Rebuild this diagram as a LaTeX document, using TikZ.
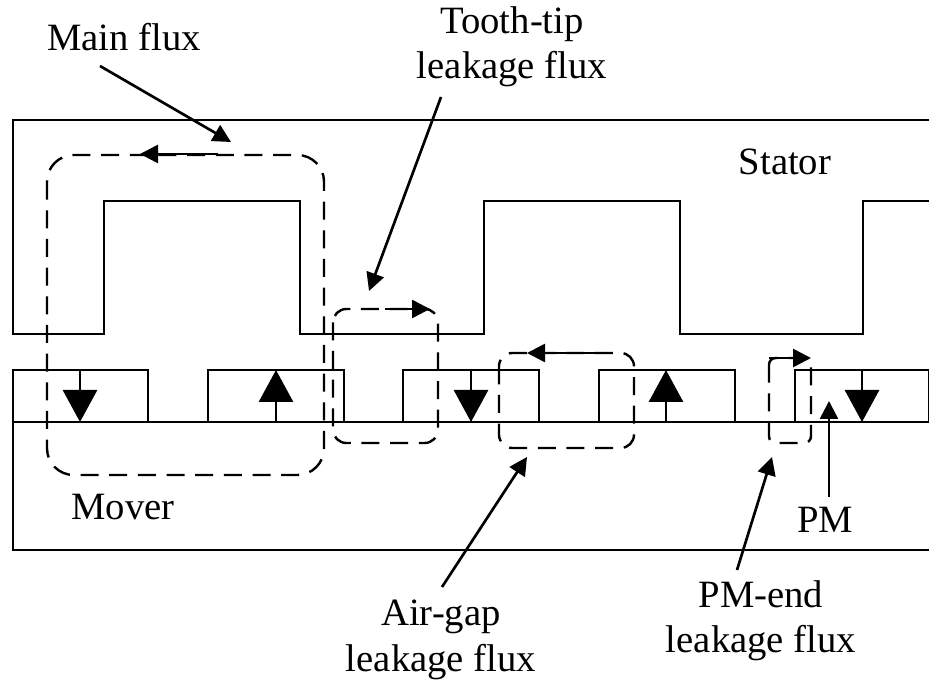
\documentclass[tikz,border=0pt]{standalone}
\usepackage{fontspec}
\setmainfont{Liberation Serif}
\usetikzlibrary{arrows.meta}
\tikzset{
  px/.style={x=0.75pt,y=-0.75pt},
  solidl/.style={line width=1pt,black},
  flux/.style={line width=1.8pt,dash pattern=on 13.5pt off 8pt,rounded corners=10pt},
  ptr/.style={line width=2pt,-{Triangle[length=13.5pt,width=13.5pt]}},
  big/.style={line width=2.2pt,-{Triangle[length=24pt,width=25.5pt]}},
  lab/.style={font=\fontsize{29}{33}\selectfont,align=center,inner sep=0pt}
}
\begin{document}
\begin{tikzpicture}[px]
\useasboundingbox (0,0) rectangle (929,680);
\fill[white] (0,0) rectangle (929,680);
% stator
\draw[solidl] (929,120) -- (13,120) -- (13,334) -- (104,334) -- (104,201) -- (300,201) -- (300,334) -- (484,334) -- (484,201) -- (680,201) -- (680,334) -- (863,334) -- (863,201) -- (929,201);
% mover
\draw[solidl] (929,422) -- (13,422) -- (13,550) -- (929,550);
% PMs
\foreach \a/\b in {13/148,208/344,403/539,599/735,795/929}{
  \draw[solidl] (\a,422) -- (\a,370) -- (\b,370) -- (\b,422);
}
% PM arrows
\coordinate (a1s) at (80,370); \coordinate (a1e) at (80,422);
\coordinate (a2s) at (276,422); \coordinate (a2e) at (276,370);
\coordinate (a3s) at (471,370); \coordinate (a3e) at (471,422);
\coordinate (a4s) at (666,422); \coordinate (a4e) at (666,370);
\coordinate (a5s) at (862,370); \coordinate (a5e) at (862,422);
\draw[big] (a1s) -- (a1e);
\draw[big] (a2s) -- (a2e);
\draw[big] (a3s) -- (a3e);
\draw[big] (a4s) -- (a4e);
\draw[big] (a5s) -- (a5e);
% flux loops
\draw[flux,rounded corners=20pt] (47,155) rectangle (324,475);
\draw[flux] (333,309) rectangle (438,443);
\draw[flux] (499,353) rectangle (634,448);
\draw[flux,rounded corners=5pt] (769,358) rectangle (811,443);
% direction arrows
\coordinate (m1) at (218,154); \coordinate (m2) at (140,154);
\draw[ptr] (m1) -- (m2);
\coordinate (t1) at (385,309); \coordinate (t2) at (430,309);
\draw[ptr] (t1) -- (t2);
\coordinate (g1) at (613,353); \coordinate (g2) at (527,353);
\draw[ptr] (g1) -- (g2);
\coordinate (e1) at (769,358); \coordinate (e2) at (811,358);
\draw[ptr] (e1) -- (e2);
% labels
\node[lab] (mainflux) at (124,37) {Main flux};
\node[lab] (tooth) at (512,47) {Tooth-tip\\[1pt]leakage flux};
\node[lab] (stator) at (785,162) {Stator};
\node[lab] (mover) at (123,507) {Mover};
\node[lab] (pm) at (825,520) {PM};
\node[lab] (airgap) at (441,640) {Air-gap\\[1pt]leakage flux};
\node[lab] (pmend) at (761,621) {PM-end\\[1pt]leakage flux};
% pointers
\coordinate (p1s) at (100,66); \coordinate (p1e) at (231,142);
\coordinate (p2s) at (441,97); \coordinate (p2e) at (369,291);
\coordinate (p3s) at (442,587); \coordinate (p3e) at (527,457);
\coordinate (p4s) at (737,570); \coordinate (p4e) at (772,457);
\coordinate (p5s) at (829,497); \coordinate (p5e) at (829,401);
\draw[ptr] (p1s) -- (p1e);
\draw[ptr] (p2s) -- (p2e);
\draw[ptr] (p3s) -- (p3e);
\draw[ptr] (p4s) -- (p4e);
\draw[ptr] (p5s) -- (p5e);
\end{tikzpicture}
\end{document}
